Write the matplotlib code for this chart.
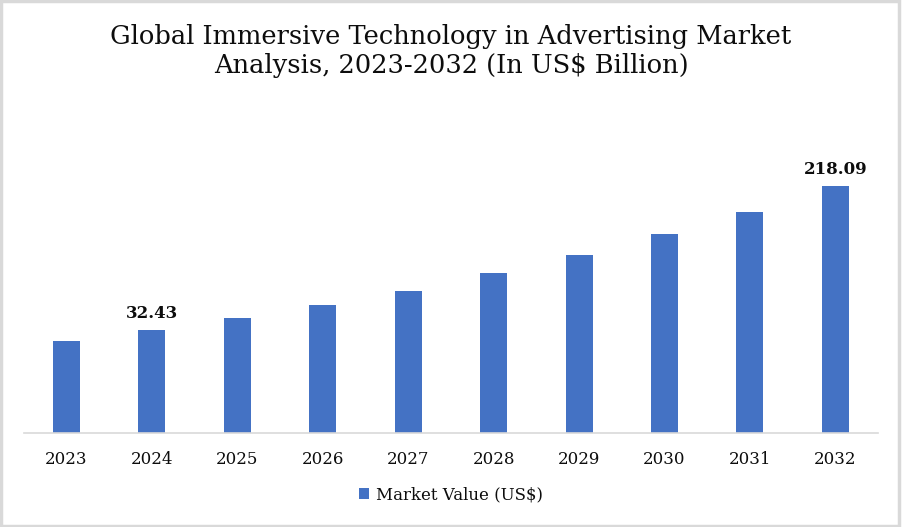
import matplotlib
matplotlib.use("Agg")
import matplotlib.pyplot as plt
from matplotlib.patches import Rectangle
import numpy as np

years = ["2023", "2024", "2025", "2026", "2027", "2028", "2029", "2030", "2031", "2032"]
values = [18.24, 32.43, 47.90, 64.66, 82.71, 105.92, 129.13, 156.20, 184.57, 218.09]
labeled = ["2024", "2032"]
axis_floor = -100.76
series_name = "Market Value (US$)"
title = "Global Immersive Technology in Advertising Market\nAnalysis, 2023-2032 (In US$ Billion)"

W, H = 902, 527
fig = plt.figure(figsize=(W / 100, H / 100), dpi=100)
fig.patch.set_facecolor("white")

font = "DejaVu Serif"
bar_color = "#4472C4"
text_color = "#0d0d0d"

# axes: x from 23.8 to 878 px, baseline at y=433.3 px
ax_left = 23.8 / W
ax_right = 878 / W
ax_bottom = 1 - 433.3 / H
ymax_px = 120
ax_top = 1 - ymax_px / H
ax = fig.add_axes([ax_left, ax_bottom, ax_right - ax_left, ax_top - ax_bottom])

x = np.arange(len(years))
heights = [v - axis_floor for v in values]
ax.bar(x, heights, bottom=axis_floor, width=0.316, color=bar_color, label=series_name, zorder=2)

# scale: 2024 top at 330 px, 2032 top at 186 px
scale = (218.09 - 32.43) / (330 - 186)  # value per px
ymax = axis_floor + (433.3 - ymax_px) * scale
ax.set_ylim(axis_floor, ymax)
ax.set_xlim(-0.5, len(years) - 0.5)

for s in ["top", "right", "left"]:
    ax.spines[s].set_visible(False)
ax.spines["bottom"].set_color("#d9d9d9")
ax.spines["bottom"].set_linewidth(1.2)
ax.set_yticks([])
ax.set_xticks(x)
ax.set_xticklabels(years, fontsize=12, family=font, color=text_color)
ax.tick_params(axis="x", length=0, pad=13)

for i, (yr, v) in enumerate(zip(years, values)):
    if yr in labeled:
        ax.annotate(f"{v:.2f}", (i, v), xytext=(0, 6), textcoords="offset points",
                    ha="center", va="bottom", fontsize=12, fontweight="bold",
                    family=font, color=text_color)

fig.text(0.5, 1 - 51 / H, title, ha="center", va="center", fontsize=18.5,
         family=font, color=text_color, linespacing=1.2)

leg = fig.legend(loc="center", bbox_to_anchor=(0.5, 1 - 495 / H), frameon=False,
                 prop={"family": font, "size": 12}, handlelength=0.6, handleheight=0.6,
                 handletextpad=0.4)
for t in leg.get_texts():
    t.set_color(text_color)

# outer border
fig.patches.append(Rectangle((0.001, 0.002), 0.996, 0.996, transform=fig.transFigure,
                             fill=False, edgecolor="#d9d9d9", linewidth=2.5))

fig.savefig("out.png", dpi=100, facecolor="white")
